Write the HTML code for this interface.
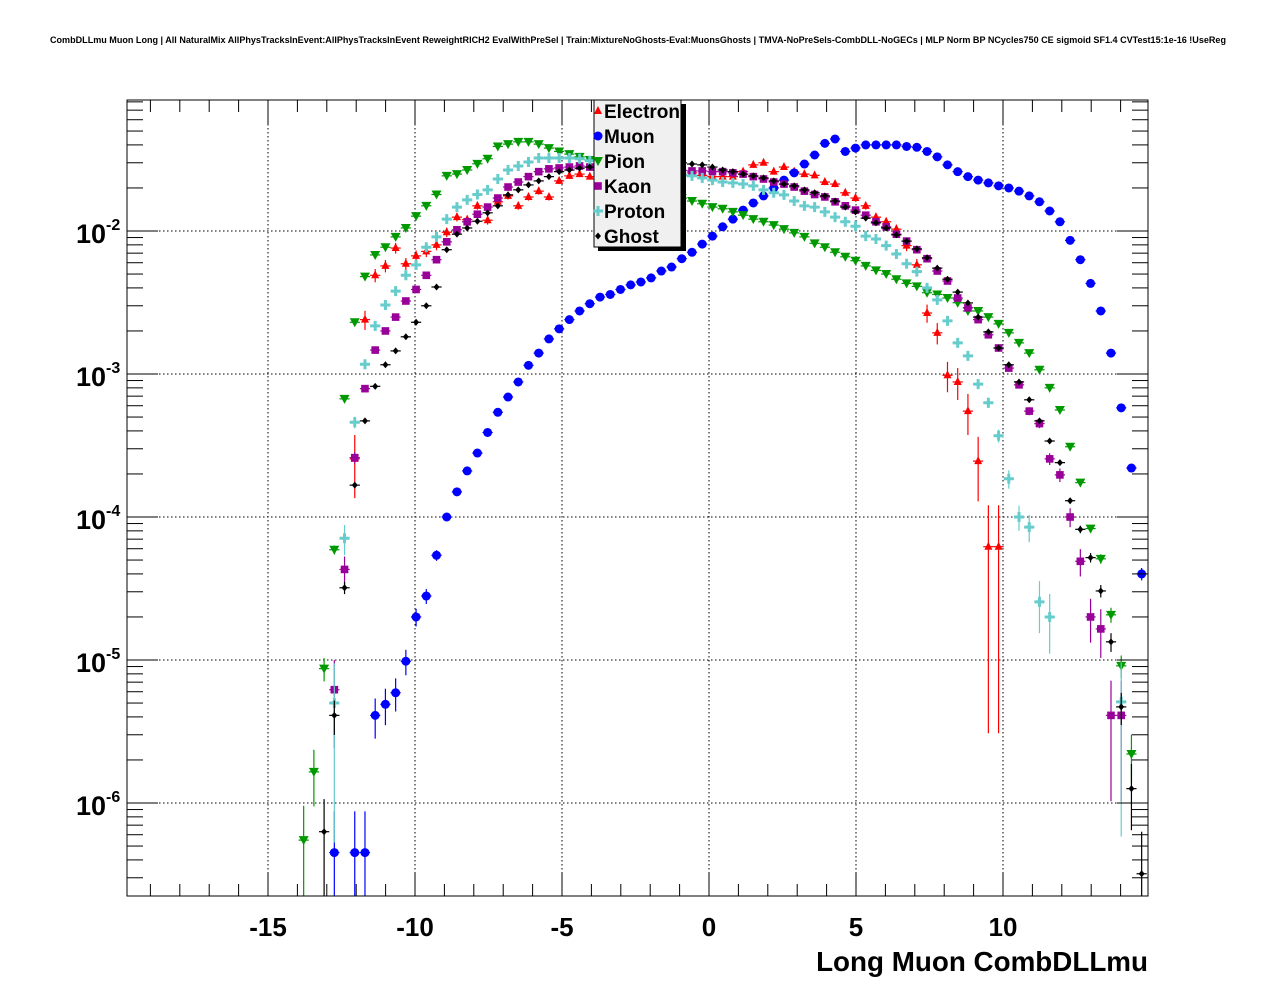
<!DOCTYPE html>
<html><head><meta charset="utf-8"><style>
html,body{margin:0;padding:0;background:#fff;}
svg{display:block;font-family:"Liberation Sans",Arial,sans-serif;}
</style></head><body>
<svg id="chart" width="1276" height="996" viewBox="0 0 1276 996" xmlns="http://www.w3.org/2000/svg">
<rect x="0" y="0" width="1276" height="996" fill="#fff"/>
<text x="638" y="43" text-anchor="middle" font-size="9.05" font-weight="bold">CombDLLmu Muon Long | All NaturalMix AllPhysTracksInEvent:AllPhysTracksInEvent ReweightRICH2 EvalWithPreSel | Train:MixtureNoGhosts-Eval:MuonsGhosts | TMVA-NoPreSels-CombDLL-NoGECs | MLP Norm BP NCycles750 CE sigmoid SF1.4 CVTest15:1e-16 !UseReg</text>
<g id="grid"></g>
<g id="series"></g>
<rect x="127" y="100" width="1021" height="796" fill="none" stroke="#000" stroke-width="1"/>
<g id="ticks"></g>
<text x="1148" y="971" text-anchor="end" font-size="27.8" font-weight="bold">Long Muon CombDLLmu</text>
<g id="legend"></g>
</svg>
<script>
// ---- data ----
const xTicks = [-15, -10, -5, 0, 5, 10];
const yDecades = [-2, -3, -4, -5, -6];
const seriesNames = ["Electron", "Muon", "Pion", "Kaon", "Proton", "Ghost"];
const electronStart = 22;
const electronValues = [2.55e-4,2.4e-3,4.9e-3,5.7e-3,7.6e-3,5.9e-3,6.7e-3,7.2e-3,8.0e-3,9.8e-3,1.25e-2,1.2e-2,1.5e-2,1.19e-2,1.6e-2,1.76e-2,1.5e-2,1.73e-2,1.9e-2,1.73e-2,2.24e-2,2.43e-2,2.5e-2,2.4e-2,
2.4e-2,2.5e-2,2.4e-2,2.45e-2,2.5e-2,2.45e-2,2.4e-2,2.45e-2,2.45e-2,
2.55e-2,2.45e-2,2.4e-2,2.4e-2,2.4e-2,2.6e-2,2.9e-2,3.0e-2,2.6e-2,2.8e-2,2.6e-2,2.5e-2,2.45e-2,2.2e-2,2.13e-2,1.85e-2,1.7e-2,1.5e-2,1.25e-2,1.16e-2,1.03e-2,7.9e-3,5.8e-3,2.67e-3,1.94e-3,9.8e-4,8.8e-4,5.5e-4,2.46e-4,6.2e-5,6.2e-5];
const muonStart = 20;
const muonValues = [4.5e-7,0,4.5e-7,4.5e-7,4.1e-6,4.9e-6,5.9e-6,9.8e-6,2.0e-5,2.8e-5,5.4e-5,1.0e-4,1.5e-4,2.1e-4,2.8e-4,3.9e-4,5.4e-4,6.9e-4,8.8e-4,1.15e-3,1.4e-3,1.76e-3,2.07e-3,2.4e-3,2.76e-3,3.1e-3,3.45e-3,3.6e-3,3.9e-3,4.2e-3,4.4e-3,4.7e-3,5.25e-3,5.6e-3,6.4e-3,7.1e-3,8.1e-3,9.2e-3,1.07e-2,1.21e-2,1.4e-2,1.57e-2,1.76e-2,2.0e-2,2.27e-2,2.55e-2,2.94e-2,3.4e-2,4.1e-2,4.4e-2,3.6e-2,3.8e-2,4.0e-2,4.0e-2,4.0e-2,4.0e-2,3.9e-2,3.85e-2,3.6e-2,3.3e-2,2.9e-2,2.6e-2,2.4e-2,2.27e-2,2.17e-2,2.07e-2,2.0e-2,1.9e-2,1.76e-2,1.6e-2,1.38e-2,1.16e-2,8.6e-3,6.3e-3,4.3e-3,2.76e-3,1.4e-3,5.8e-4,2.2e-4,4.0e-5];
const pionStart = 17;
const pionValues = [5.5e-7,1.65e-6,8.7e-6,5.9e-5,6.7e-4,2.3e-3,4.8e-3,6.8e-3,7.7e-3,9.1e-3,1.05e-2,1.27e-2,1.5e-2,1.8e-2,2.43e-2,2.5e-2,2.67e-2,2.95e-2,3.2e-2,3.9e-2,4.05e-2,4.2e-2,4.2e-2,4.05e-2,3.8e-2,3.6e-2,3.45e-2,3.3e-2,3.14e-2,2.95e-2,2.75e-2,2.6e-2,2.43e-2,2.24e-2,2.1e-2,1.94e-2,1.8e-2,1.7e-2,1.62e-2,1.55e-2,1.47e-2,1.43e-2,1.36e-2,1.29e-2,1.21e-2,1.16e-2,1.1e-2,1.03e-2,9.7e-3,9.1e-3,8.2e-3,7.7e-3,7.1e-3,6.6e-3,6.2e-3,5.7e-3,5.3e-3,5.0e-3,4.6e-3,4.3e-3,4.1e-3,3.7e-3,3.6e-3,3.4e-3,3.15e-3,2.76e-3,2.76e-3,2.5e-3,2.24e-3,1.94e-3,1.65e-3,1.4e-3,1.07e-3,8.0e-4,5.6e-4,3.1e-4,1.74e-4,8.3e-5,5.1e-5,2.07e-5,9.1e-6,2.2e-6];
const kaonStart = 20;
const kaonValues = [6.2e-6,4.3e-5,2.6e-4,7.9e-4,1.47e-3,2.0e-3,2.5e-3,3.24e-3,3.9e-3,4.9e-3,6.3e-3,8.4e-3,1.02e-2,1.16e-2,1.31e-2,1.47e-2,1.7e-2,2.03e-2,2.2e-2,2.4e-2,2.6e-2,2.72e-2,2.76e-2,2.8e-2,2.85e-2,2.8e-2,
2.75e-2,2.75e-2,2.75e-2,2.7e-2,2.7e-2,2.7e-2,2.7e-2,2.65e-2,2.65e-2,
2.63e-2,2.63e-2,2.6e-2,2.6e-2,2.55e-2,2.5e-2,2.4e-2,2.31e-2,2.2e-2,2.13e-2,2.03e-2,1.9e-2,1.8e-2,1.73e-2,1.6e-2,1.5e-2,1.4e-2,1.29e-2,1.16e-2,1.07e-2,9.5e-3,8.5e-3,7.4e-3,6.4e-3,5.25e-3,4.47e-3,3.4e-3,2.9e-3,2.4e-3,1.88e-3,1.52e-3,1.1e-3,8.4e-4,5.5e-4,4.5e-4,2.55e-4,1.97e-4,1.0e-4,4.9e-5,2.0e-5,1.65e-5,4.1e-6,4.1e-6];
const protonStart = 20;
const protonValues = [5.0e-6,7.1e-5,4.6e-4,1.17e-3,2.17e-3,3.04e-3,3.8e-3,4.9e-3,5.8e-3,7.7e-3,9.1e-3,1.21e-2,1.47e-2,1.65e-2,1.8e-2,1.94e-2,2.31e-2,2.67e-2,2.85e-2,3.04e-2,3.24e-2,3.24e-2,3.24e-2,3.24e-2,3.2e-2,3.1e-2,
3.0e-2,2.95e-2,2.9e-2,2.85e-2,2.8e-2,2.75e-2,2.7e-2,2.65e-2,
2.46e-2,2.43e-2,2.35e-2,2.27e-2,2.2e-2,2.17e-2,2.13e-2,2.07e-2,1.94e-2,1.85e-2,1.79e-2,1.62e-2,1.5e-2,1.47e-2,1.36e-2,1.25e-2,1.16e-2,1.08e-2,9.2e-3,8.8e-3,7.9e-3,6.9e-3,5.9e-3,5.2e-3,4.0e-3,3.3e-3,2.35e-3,1.65e-3,1.34e-3,8.5e-4,6.3e-4,3.7e-4,1.85e-4,1.0e-4,8.5e-5,2.55e-5,2.0e-5,0,0,0,0,0,0,5.1e-6];
const ghostStart = 19;
const ghostValues = [6.3e-7,4.1e-6,3.2e-5,1.67e-4,4.7e-4,8.2e-4,1.16e-3,1.45e-3,1.82e-3,2.3e-3,3.0e-3,4.06e-3,7.4e-3,9.5e-3,1.05e-2,1.17e-2,1.34e-2,1.5e-2,1.79e-2,1.94e-2,2.1e-2,2.24e-2,2.4e-2,2.6e-2,2.67e-2,2.75e-2,
2.8e-2,2.85e-2,2.9e-2,2.9e-2,2.95e-2,2.95e-2,3.0e-2,3.0e-2,3.0e-2,
3.0e-2,2.94e-2,2.9e-2,2.8e-2,2.67e-2,2.6e-2,2.5e-2,2.43e-2,2.35e-2,2.24e-2,2.13e-2,2.07e-2,1.94e-2,1.85e-2,1.76e-2,1.62e-2,1.47e-2,1.36e-2,1.23e-2,1.14e-2,1.05e-2,9.4e-3,8.5e-3,7.5e-3,6.5e-3,5.5e-3,4.6e-3,3.74e-3,3.14e-3,2.5e-3,1.97e-3,1.52e-3,1.16e-3,8.8e-4,6.6e-4,4.7e-4,3.4e-4,2.4e-4,1.3e-4,8.2e-5,5.2e-5,3.04e-5,1.34e-5,4.7e-6,1.26e-6,3.2e-7];

// ---- axes ----
const NS = "http://www.w3.org/2000/svg";
const plotL = 127, plotR = 1148, plotT = 100, plotB = 896;
const binMin = -19.87, binWidth = 0.3476;
function xPix(x){ return 709 + 29.4 * x; }
function yPix(v){ return 231 - (Math.log10(v) + 2) * 143; }
function binCenter(m){ return binMin + binWidth * (m + 0.5); }
function el(tag, attrs, parent){
  const e = document.createElementNS(NS, tag);
  for (const k in attrs) e.setAttribute(k, attrs[k]);
  parent.appendChild(e);
  return e;
}
const grid = document.getElementById('grid');
const ticks = document.getElementById('ticks');
const seriesG = document.getElementById('series');
const legend = document.getElementById('legend');

xTicks.forEach(t => {
  const l = el('line', {x1:xPix(t), x2:xPix(t), y1:plotT, y2:plotB, stroke:'#000', 'stroke-width':1, 'stroke-dasharray':'1.5,2.5'}, grid);
  
  
});
yDecades.forEach(d => {
  const y = yPix(Math.pow(10, d));
  const l = el('line', {x1:plotL, x2:plotR, y1:y, y2:y, stroke:'#000', 'stroke-width':1, 'stroke-dasharray':'1.5,2.5'}, grid);
  
  
});

for (let v = -19; v <= 14; v++) {
  const x = xPix(v);
  if (x < plotL || x > plotR) continue;
  const major = (v % 5 === 0);
  const len = major ? 24 : 12;
  el('line', {x1:x, x2:x, y1:plotB, y2:plotB - len, stroke:'#000', 'stroke-width':1}, ticks);
  el('line', {x1:x, x2:x, y1:plotT, y2:plotT + len, stroke:'#000', 'stroke-width':1}, ticks);
}
xTicks.forEach(t => {
  const tx = el('text', {x:xPix(t), y:936, 'text-anchor':'middle', 'font-size':26, 'font-weight':'bold'}, ticks);
  tx.textContent = (t < 0 ? '-' + Math.abs(t) : String(t));
  
  
});
for (let d = -7; d <= -1; d++) {
  for (let k = 1; k <= 9; k++) {
    const y = yPix(k * Math.pow(10, d));
    if (y < plotT || y > plotB) continue;
    const len = (k === 1) ? 31 : 16;
    el('line', {x1:plotL, x2:plotL + len, y1:y, y2:y, stroke:'#000', 'stroke-width':1}, ticks);
    el('line', {x1:plotR, x2:plotR - len, y1:y, y2:y, stroke:'#000', 'stroke-width':1}, ticks);
  }
}
yDecades.forEach(d => {
  const y = yPix(Math.pow(10, d));
  const tx = el('text', {x:106, y:y + 12, 'text-anchor':'end', 'font-size':27, 'font-weight':'bold'}, ticks);
  tx.textContent = '10';
  
  
  const ex = el('text', {x:106, y:y - 1, 'text-anchor':'start', 'font-size':16, 'font-weight':'bold'}, ticks);
  ex.textContent = String(d);
  
  
});

function marker(kind, x, y, color, g){
  if (kind === 'tri-up') return el('polygon', {points:`${x},${y-5} ${x-4},${y+3} ${x+4},${y+3}`, fill:color}, g);
  if (kind === 'circle') return el('circle', {cx:x, cy:y, r:4.5, fill:color}, g);
  if (kind === 'tri-down') return el('polygon', {points:`${x-5},${y-4} ${x+5},${y-4} ${x},${y+5}`, fill:color}, g);
  if (kind === 'square') return el('rect', {x:x-3.8, y:y-3.8, width:7.6, height:7.6, fill:color}, g);
  if (kind === 'cross') return el('path', {d:`M${x-5},${y-1.5}h10v3h-10z M${x-1.5},${y-5}h3v10h-3z`, fill:color}, g);
  if (kind === 'diamond') return el('polygon', {points:`${x},${y-3.5} ${x+3},${y} ${x},${y+3.5} ${x-3},${y}`, fill:color}, g);
}

const seriesDefs = [
  {name:'electron', start:electronStart, values:electronValues, color:'#ff0000', kind:'tri-up', errC:5.6e-5},
  {name:'muon', start:muonStart, values:muonValues, color:'#0000ff', kind:'circle', errC:4e-7},
  {name:'pion', start:pionStart, values:pionValues, color:'#009900', kind:'tri-down', errC:3e-7},
  {name:'kaon', start:kaonStart, values:kaonValues, color:'#990099', kind:'square', errC:2.3e-6},
  {name:'proton', start:protonStart, values:protonValues, color:'#66cccc', kind:'cross', errC:4e-6},
  {name:'ghost', start:ghostStart, values:ghostValues, color:'#000000', kind:'diamond', errC:3e-7}
];

seriesDefs.forEach(s => {
  const g = el('g', {}, seriesG);
  
  
  s.values.forEach((v, i) => {
    if (!(v > 0)) return;
    const m = s.start + i;
    const xc = binCenter(m);
    const x = xPix(xc);
    const y = yPix(v);
    const x1 = xPix(xc - binWidth / 2), x2 = xPix(xc + binWidth / 2);
    const rel = Math.sqrt(s.errC / v);
    const yTop = Math.max(plotT, yPix(v * (1 + rel)));
    const yBot = rel >= 1 ? plotB : Math.min(plotB, yPix(v * (1 - rel)));
    el('line', {x1:x1, x2:x2, y1:y, y2:y, stroke:s.color, 'stroke-width':1.2}, g);
    el('line', {x1:x, x2:x, y1:yTop, y2:yBot, stroke:s.color, 'stroke-width':1.2}, g);
    const mk = marker(s.kind, x, y, s.color, g);
    
    
  });
});

el('rect', {x:598, y:104, width:88, height:147, fill:'#000'}, legend);
const box = el('rect', {x:594, y:100, width:87, height:147, fill:'#f0f0f0', stroke:'#000', 'stroke-width':1}, legend);


seriesNames.forEach((nm, i) => {
  const y = 111 + 25 * i;
  const s = seriesDefs[i];
  const mk = marker(s.kind, 598, y, s.color, legend);
  
  
  const t = el('text', {x:604, y:y + 7, 'font-size':19, 'font-weight':'bold'}, legend);
  t.textContent = nm;
  
  
});
</script>
</body></html>
